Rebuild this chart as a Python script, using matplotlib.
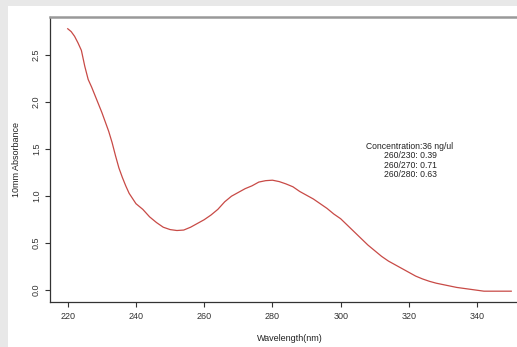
#!/usr/bin/env python3

import matplotlib
matplotlib.use('Agg')
import matplotlib.pyplot as plt
from matplotlib.patches import Rectangle

plt.rcParams['font.family'] = ['Liberation Sans', 'DejaVu Sans']

# absorbance spectrum, 10mm path length
wavelength = [220, 221, 222, 223, 224, 225, 226, 227, 228, 229, 230, 231, 232, 233,
              234, 235, 236, 237, 238, 240, 242, 244, 246, 248, 250, 252, 254, 256,
              258, 260, 262, 264, 266, 268, 270, 272, 274, 276, 278, 280, 282, 284,
              286, 288, 290, 292, 294, 296, 298, 300, 302, 304, 306, 308, 310, 312,
              314, 316, 318, 320, 322, 324, 326, 328, 330, 332, 334, 336, 338, 340,
              342, 344, 346, 348, 350]
absorbance = [2.78, 2.75, 2.70, 2.63, 2.55, 2.38, 2.24, 2.16, 2.07, 1.98, 1.89, 1.79,
              1.69, 1.57, 1.43, 1.30, 1.20, 1.11, 1.03, 0.92, 0.86, 0.78, 0.72, 0.67,
              0.645, 0.635, 0.64, 0.67, 0.71, 0.75, 0.80, 0.86, 0.94, 1.00, 1.04, 1.08,
              1.11, 1.15, 1.165, 1.17, 1.155, 1.13, 1.10, 1.05, 1.01, 0.97, 0.92, 0.87,
              0.81, 0.76, 0.69, 0.62, 0.55, 0.48, 0.42, 0.36, 0.31, 0.27, 0.23, 0.19,
              0.15, 0.12, 0.095, 0.075, 0.06, 0.045, 0.03, 0.02, 0.01, 0.0,
              -0.01, -0.01, -0.01, -0.01, -0.01]

x_ticks = [220, 240, 260, 280, 300, 320, 340]
y_ticks = [0.0, 0.5, 1.0, 1.5, 2.0, 2.5]
summary = ['Concentration:36 ng/ul', '260/230: 0.39', '260/270: 0.71', '260/280: 0.63']

W, H = 517, 347
fig = plt.figure(figsize=(W / 100, H / 100), dpi=100, facecolor='#e8e8e8')
fig.patches.append(Rectangle((8 / W, 0), 1 - 8 / W, 1 - 6 / H, transform=fig.transFigure,
                             facecolor='white', edgecolor='none', zorder=-5))

# plot box runs past the right edge of the image
ax = fig.add_axes([50 / W, (H - 302) / H, (529 - 50) / W, (302 - 17) / H])
ax.set_zorder(2)
ax.set_facecolor('none')
ax.plot(wavelength, absorbance, color='#c84a46', linewidth=0.9)
ax.set_xlim(214.8, 355.2)
ax.set_ylim(-0.125, 2.905)

for s in ('left', 'bottom'):
    ax.spines[s].set_color('#333333')
    ax.spines[s].set_linewidth(0.9)
ax.spines['top'].set_color('#999999')
ax.spines['top'].set_linewidth(1.8)

ax.set_xticks(x_ticks)
ax.set_yticks(y_ticks)
ax.set_xticklabels([str(t) for t in x_ticks])
ax.set_yticklabels(['%.1f' % t for t in y_ticks], rotation=90, va='center')
ax.tick_params(direction='out', length=3.5, width=0.8, color='#333333',
               labelsize=6.5, labelcolor='#333333')
ax.tick_params(axis='y', pad=3)
ax.tick_params(axis='x', pad=4)

ax.set_xlabel('Wavelength(nm)', fontsize=6.5, color='#222222', labelpad=9)
fig.text(17 / W, 1 - 159.5 / H, '10mm Absorbance', rotation=90, fontsize=6.5,
         color='#222222', ha='center', va='center')

for i, line in enumerate(summary):
    fig.text(410 / W, 1 - (146 + 9.5 * i) / H, line, fontsize=6.2, color='#222222',
             ha='center', va='center')

plt.savefig('out.png', dpi=100, facecolor=fig.get_facecolor())
